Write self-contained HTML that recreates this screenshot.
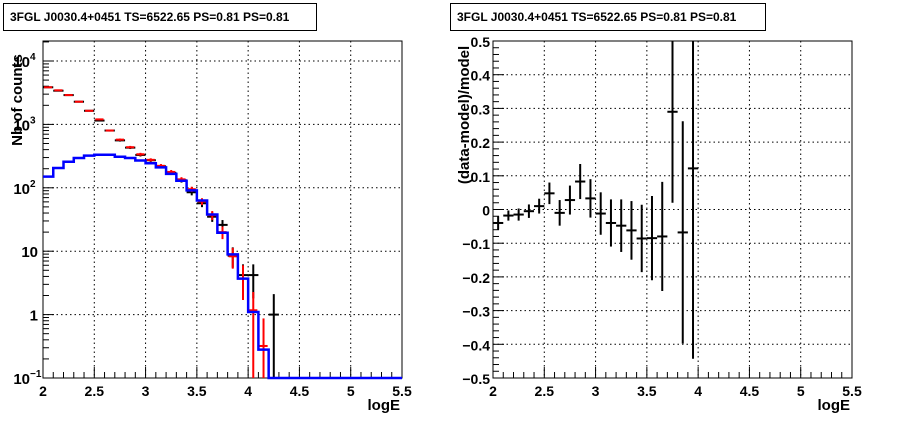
<!DOCTYPE html>
<html><head><meta charset="utf-8"><style>
body{margin:0;background:#fff;width:898px;height:421px;overflow:hidden;font-family:"Liberation Sans",Arial,sans-serif}
svg text{font-family:"Liberation Sans",Arial,sans-serif;font-weight:bold}
</style></head><body>
<svg id="c" width="898" height="421" xmlns="http://www.w3.org/2000/svg">
<rect x="0" y="0" width="898" height="421" fill="#fff"/>
<g><rect x="3.5" y="3.5" width="313" height="27" fill="#fff" stroke="#000"/><text x="10" y="21" font-size="12">3FGL J0030.4+0451 TS=6522.65 PS=0.81 PS=0.81</text></g>
<g><rect x="450.5" y="3.5" width="315" height="27" fill="#fff" stroke="#000"/><text x="457" y="21" font-size="12">3FGL J0030.4+0451 TS=6522.65 PS=0.81 PS=0.81</text></g>
<g id="L"></g><g id="R"></g>
</svg>
<script>
// shared bins
const binCenters=[2.05,2.15,2.25,2.35,2.45,2.55,2.65,2.75,2.85,2.95,3.05,3.15,3.25,3.35,3.45,3.55,3.65,3.75,3.85,3.95,4.05,4.15,4.25];
// left panel: counts
const dataCounts=[3850,3400,2900,2280,1640,1150,800,560,430,330,272,218,172,132,85,57,35,26,8.5,4.2,4.2,0,1];
const dataErrLo=[60,58,54,48,40,34,28,24,21,18,16,15,13,11,9,7.5,6,5,3,2.4,2.4,0,0.95];
const dataErrHi=[60,58,54,48,40,34,28,24,21,18,16,15,13,11,9,7.5,6,5,3,2,2,0,1.1];
const modelCounts=[3850,3450,2900,2280,1640,1200,800,575,437,338,276,222,178,136,95,61,37,20,8.3,3.7,1.17,0.32,0];
const modelErrLo=[60,58,54,48,40,34,28,24,21,18,16,15,13,11,9,7.5,6,4.5,3,2,1.15,0.31,0];
const modelErrHi=[60,58,54,48,40,34,28,24,21,18,16,15,13,11,9,7.5,6,4.5,3,2.3,1.1,0.55,0];
const histEdges=[2.0,2.1,2.2,2.3,2.4,2.5,2.6,2.7,2.8,2.9,3.0,3.1,3.2,3.3,3.4,3.5,3.6,3.7,3.8,3.9,4.0,4.1,4.2,5.5];
const histValues=[150,205,258,295,322,332,332,309,295,270,244,210,166,129,91,63,38,19.5,8.9,3.7,1.1,0.28,0.1];
const leftYTicks=[0.1,1,10,100,1000,10000];
const leftYLabels=["10","1","10","10","10","10"];
const leftYExp=["\u22121","","","2","3","4"];
const xTicks=[2,2.5,3,3.5,4,4.5,5,5.5];
const xTickLabels=["2","2.5","3","3.5","4","4.5","5","5.5"];
// right panel: residuals
const resValues=[-0.04,-0.018,-0.015,-0.005,0.01,0.048,-0.01,0.028,0.083,0.033,-0.012,-0.04,-0.048,-0.062,-0.086,-0.085,-0.08,0.29,-0.068,0.122];
const resErrors=[0.02,0.015,0.018,0.02,0.022,0.032,0.038,0.043,0.052,0.057,0.063,0.07,0.078,0.087,0.1,0.125,0.162,0.27,0.33,0.565];
const rightYTicks=[-0.5,-0.4,-0.3,-0.2,-0.1,0,0.1,0.2,0.3,0.4,0.5];
const rightYLabels=["\u22120.5","\u22120.4","\u22120.3","\u22120.2","\u22120.1","0","0.1","0.2","0.3","0.4","0.5"];

const NS="http://www.w3.org/2000/svg";
function mk(p,t,a){const e=document.createElementNS(NS,t);for(const k in a)e.setAttribute(k,a[k]);p.appendChild(e);return e;}
const FT=41,FB=378;
function frame(g,x0,x1,yfun,yticks,minorTicks,xfun){
  xTicks.forEach((v,i)=>{if(i>0&&i<xTicks.length-1){const l=mk(g,'line',{x1:xfun(v),x2:xfun(v),y1:FT,y2:FB,stroke:'#000','stroke-dasharray':'1.5,3','stroke-width':1});
  
  }});
  yticks.forEach(v=>{const y=yfun(v);if(y>FT+1&&y<FB-1){const l=mk(g,'line',{x1:x0,x2:x1,y1:y,y2:y,stroke:'#000','stroke-dasharray':'1.5,3','stroke-width':1});
  
  }});
  for(let v=2;v<=5.501;v+=0.1){const big=Math.abs(v*2-Math.round(v*2))<1e-6;mk(g,'line',{x1:xfun(v),x2:xfun(v),y1:FB,y2:FB-(big?11:6),stroke:'#000'});}
  xTicks.forEach((v,i)=>{const t=mk(g,'text',{x:xfun(v),y:FB+18,'font-size':14,'text-anchor':'middle'});t.textContent=xTickLabels[i];
  
  });
  minorTicks.forEach(m=>{const y=yfun(m.v);if(y>=FT&&y<=FB)mk(g,'line',{x1:x0,x2:x0+(m.big?11:6),y1:y,y2:y,stroke:'#000'});});
  const r=mk(g,'rect',{x:x0,y:FT,width:x1-x0,height:FB-FT,fill:'none',stroke:'#000','stroke-width':1});
  
  
  const xl=mk(g,'text',{x:x1-2,y:FB+32,'font-size':15,'text-anchor':'end'});xl.textContent='logE';
  
  
}
// LEFT
(function(){
  const g=document.getElementById('L');
  const x0=43,x1=402;
  const X=v=>x0+(v-2)/3.5*(x1-x0);
  const Y=v=>FB-(Math.log10(v)+1)*63.4;
  const minors=[];
  for(let d=-1;d<=4;d++)for(let k=1;k<10;k++)minors.push({v:k*Math.pow(10,d),big:k===1});
  frame(g,x0,x1,Y,leftYTicks,minors,X);
  leftYTicks.forEach((v,i)=>{const t=mk(g,'text',{x:leftYExp[i]?30:38,y:Y(v)+6,'font-size':15,'text-anchor':'end'});t.textContent=leftYLabels[i];
  
  
  if(leftYExp[i]){const s=mk(g,'text',{x:30,y:Y(v)-1,'font-size':10});s.textContent=leftYExp[i];}});
  const yt=mk(g,'text',{x:0,y:0,'font-size':15,transform:'translate(22,100) rotate(-90)','text-anchor':'middle'});yt.textContent='Nb of counts';
  
  
  const clipY=v=>Math.max(FT,Math.min(FB,v<=0?FB:Y(v)));
  binCenters.forEach((c,i)=>{const v=dataCounts[i];if(v<=0)return;
    const e=mk(g,'g',{});
    
    
    mk(e,'line',{x1:X(c-0.05),x2:X(c+0.05),y1:Y(v),y2:Y(v),stroke:'#000','stroke-width':2});
    mk(e,'line',{x1:X(c),x2:X(c),y1:clipY(v+dataErrHi[i]),y2:clipY(v-dataErrLo[i]),stroke:'#000','stroke-width':2});});
  binCenters.forEach((c,i)=>{const v=modelCounts[i];if(v<=0)return;
    const e=mk(g,'g',{});
    
    
    mk(e,'line',{x1:X(c-0.04),x2:X(c+0.04),y1:Y(v),y2:Y(v),stroke:'#f00','stroke-width':2});
    mk(e,'line',{x1:X(c),x2:X(c),y1:clipY(v+modelErrHi[i]),y2:clipY(v-modelErrLo[i]),stroke:'#f00','stroke-width':2});});
  let d='';
  histValues.forEach((v,i)=>{const y=Math.min(FB,Y(v));const xa=X(histEdges[i]),xb=X(histEdges[i+1]);d+=(i===0?'M':'L')+xa+','+y+'L'+xb+','+y;});
  const p=mk(g,'path',{d:d,fill:'none',stroke:'#00f','stroke-width':2.5});
  
  
})();
// RIGHT
(function(){
  const g=document.getElementById('R');
  const x0=493,x1=852;
  const X=v=>x0+(v-2)/3.5*(x1-x0);
  const Y=v=>FB-(v+0.5)*(FB-FT);
  const minors=[];
  for(let k=0;k<=50;k++){const v=-0.5+k*0.02;minors.push({v:v,big:k%5===0});}
  frame(g,x0,x1,Y,rightYTicks,minors,X);
  rightYTicks.forEach((v,i)=>{const t=mk(g,'text',{x:x0-3,y:Y(v)+6,'font-size':14,'text-anchor':'end'});t.textContent=rightYLabels[i];
  
  });
  const yt=mk(g,'text',{x:0,y:0,'font-size':15,transform:'translate(469,115) rotate(-90)','text-anchor':'middle'});yt.textContent='(data-model)/model';
  
  
  const cl=y=>Math.max(FT,Math.min(FB,y));
  resValues.forEach((v,i)=>{const c=binCenters[i];
    const e=mk(g,'g',{});
    
    
    mk(e,'line',{x1:X(c-0.05),x2:X(c+0.05),y1:Y(v),y2:Y(v),stroke:'#000','stroke-width':2});
    mk(e,'line',{x1:X(c),x2:X(c),y1:cl(Y(v+resErrors[i])),y2:cl(Y(v-resErrors[i])),stroke:'#000','stroke-width':2});});
})();
</script>
</body></html>
